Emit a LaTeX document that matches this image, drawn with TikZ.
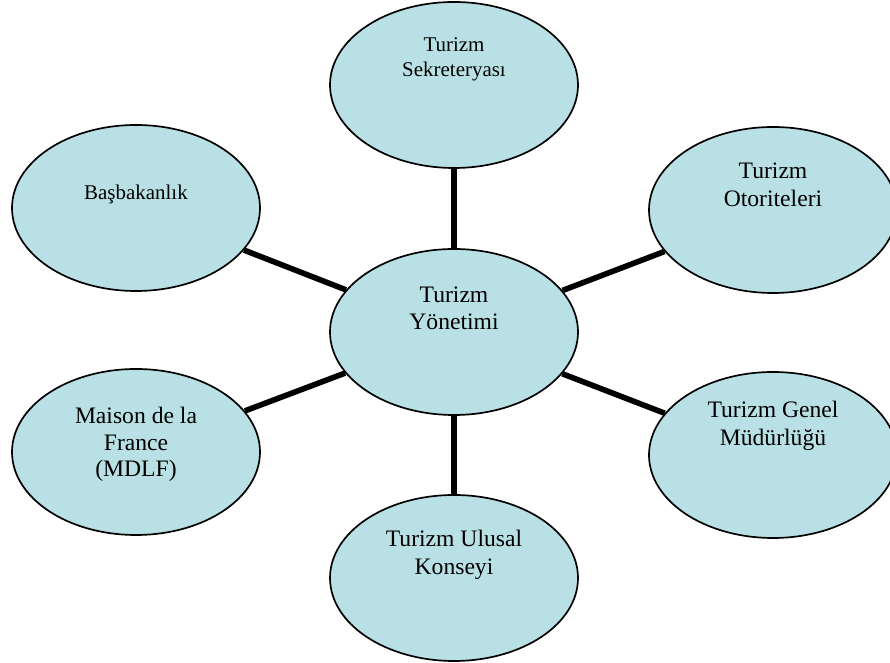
\documentclass[tikz,border=0pt]{standalone}
\usepackage{fontspec}
\setmainfont{Liberation Serif}
\usetikzlibrary{shapes.geometric}
\definecolor{bubblefill}{RGB}{185,224,228}
\begin{document}
\begin{tikzpicture}[x=1cm,y=1cm,
  bubble/.style={draw, ellipse, fill=bubblefill, line width=1.2pt, minimum width=6.2cm, minimum height=4.15cm, inner sep=0pt},
  bigtxt/.style={align=center, font=\fontsize{16.8}{19.6}\selectfont, inner sep=0pt},
  smalltxt/.style={align=center, font=\fontsize{14.9}{17.8}\selectfont, inner sep=0pt},
  spoke/.style={line width=4pt}]
\useasboundingbox (0,0) rectangle (22.25,16.575);
\node[bubble, label={[bigtxt, yshift=0.59cm]center:Turizm\\Yönetimi}] (yon) at (11.35,8.275) {};
\node[bubble, label={[smalltxt, yshift=0.64cm]center:Turizm\\Sekreteryası}] (sekr) at (11.35,14.45) {};
\node[bubble, label={[smalltxt, yshift=0.35cm]center:Başbakanlık}] (basb) at (3.4,11.375) {};
\node[bubble, label={[bigtxt, yshift=0.625cm]center:Turizm\\Otoriteleri}] (otor) at (19.325,11.325) {};
\node[bubble, label={[bigtxt, yshift=0.19cm, font=\fontsize{16.8}{18.6}\selectfont]center:Maison de la\\France\\(MDLF)}] (mdlf) at (3.4,5.275) {};
\node[bubble, label={[bigtxt, yshift=0.725cm]center:Turizm Genel\\Müdürlüğü}] (genel) at (19.325,5.2) {};
\node[bubble, label={[bigtxt, yshift=0.575cm]center:Turizm Ulusal\\Konseyi}] (ulusal) at (11.35,2.125) {};
\foreach \n in {sekr,basb,otor,mdlf,genel,ulusal}
  \draw[spoke] (yon) -- (\n);
\end{tikzpicture}
\end{document}
